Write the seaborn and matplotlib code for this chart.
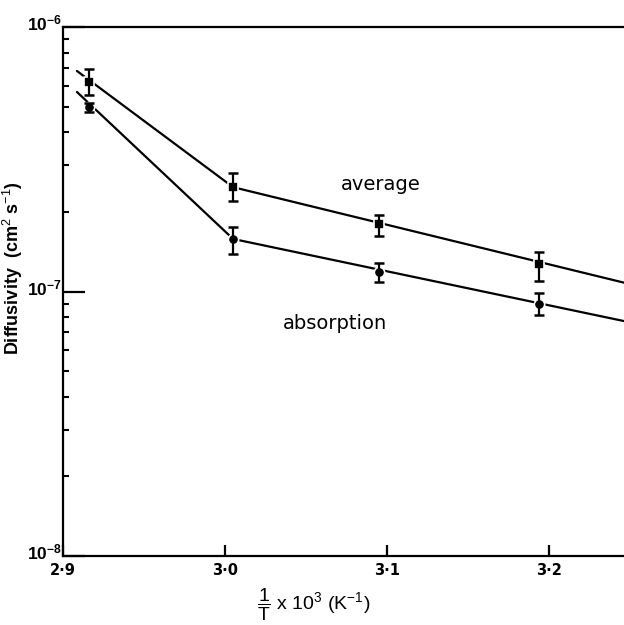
import numpy as np
import pandas as pd
import matplotlib
matplotlib.use('Agg')
import matplotlib.pyplot as plt
import matplotlib.transforms as mtransforms
import seaborn as sns

# measured points (1/T x 10^3, diffusivity cm2/s)
inv_t = [2.916, 3.005, 3.095, 3.194]
avg_d = [6.19e-7, 2.48e-7, 1.80e-7, 1.27e-7]
avg_hi = [6.94e-7, 2.81e-7, 1.94e-7, 1.41e-7]
avg_lo = [5.53e-7, 2.20e-7, 1.62e-7, 1.10e-7]
abs_d = [4.99e-7, 1.58e-7, 1.19e-7, 8.97e-8]
abs_hi = [5.18e-7, 1.75e-7, 1.28e-7, 9.87e-8]
abs_lo = [4.78e-7, 1.39e-7, 1.09e-7, 8.15e-8]

# drawn fit lines (two straight segments each)
fit_x = [2.9086, 3.005, 3.2463]
avg_fit = [6.82e-7, 2.48e-7, 1.08e-7]
abs_fit = [5.68e-7, 1.58e-7, 7.73e-8]

x_ticks = [2.9, 3.0, 3.1, 3.2]
x_labels = ['2·9', '3·0', '3·1', '3·2']
y_ticks = [1e-8, 1e-7, 1e-6]
y_labels = [r'$\mathbf{10^{-8}}$', r'$\mathbf{10^{-7}}$', r'$\mathbf{10^{-6}}$']

sns.set_style('ticks')
plt.rcParams['font.family'] = ['DejaVu Sans']
plt.rcParams['text.color'] = 'black'
plt.rcParams['axes.edgecolor'] = 'black'
plt.rcParams['xtick.color'] = 'black'
plt.rcParams['ytick.color'] = 'black'
plt.rcParams['mathtext.fontset'] = 'custom'
plt.rcParams['mathtext.rm'] = 'Liberation Sans'
plt.rcParams['mathtext.bf'] = 'Liberation Sans:bold'
plt.rcParams['mathtext.it'] = 'Liberation Sans'

fig = plt.figure(figsize=(6.24, 6.25), dpi=100)
ax = fig.add_axes([63/624, 1-556/625, (630-63)/624, (556-27)/625])

fits = pd.DataFrame({'x': fit_x * 2, 'y': avg_fit + abs_fit,
                     'series': ['average']*3 + ['absorption']*3})
sns.lineplot(data=fits, x='x', y='y', units='series', estimator=None,
             color='black', lw=1.6, ax=ax, legend=False, zorder=2)

ax.errorbar(inv_t, avg_d, yerr=[np.subtract(avg_d, avg_lo), np.subtract(avg_hi, avg_d)],
            fmt='none', ecolor='black', elinewidth=1.6, capsize=3.5, capthick=1.8, zorder=4)
ax.errorbar(inv_t, abs_d, yerr=[np.subtract(abs_d, abs_lo), np.subtract(abs_hi, abs_d)],
            fmt='none', ecolor='black', elinewidth=1.6, capsize=3.5, capthick=1.8, zorder=4)
sns.scatterplot(x=inv_t, y=avg_d, marker='s', s=45, color='black',
                edgecolor='white', linewidth=1.2, ax=ax, zorder=3)
sns.scatterplot(x=inv_t, y=abs_d, marker='o', s=55, color='black',
                edgecolor='white', linewidth=1.2, ax=ax, zorder=3)

ax.set_yscale('log')
ax.set_xlim(2.9, 3.25)
ax.set_ylim(1e-8, 1e-6)
ax.set_xticks(x_ticks, labels=x_labels)
ax.set_yticks(y_ticks, labels=y_labels)
ax.set_xlabel('')
ax.set_ylabel('')

for side in ['left', 'top', 'bottom']:
    ax.spines[side].set_linewidth(1.6)
ax.spines['right'].set_visible(False)

ax.tick_params(axis='x', which='major', direction='in', length=8, width=1.6,
               pad=5, labelsize=10.5)
for lab in ax.get_xticklabels():
    lab.set_fontweight('bold')
ax.tick_params(axis='x', which='minor', bottom=False)
ax.tick_params(axis='y', which='major', direction='in', length=16, width=1.6,
               pad=1, labelsize=12.5)
ax.tick_params(axis='y', which='minor', direction='in', length=4, width=1.5)
shift_up = mtransforms.ScaledTranslation(0, 3/72, fig.dpi_scale_trans)
for lab in ax.get_yticklabels():
    lab.set_transform(lab.get_transform() + shift_up)

ax.text(3.096, 2.53e-7, 'average', fontsize=14, ha='center', va='center')
ax.text(3.068, 7.6e-8, 'absorption', fontsize=14, ha='center', va='center')

fig.text(13/624, 1-268/625, 'Diffusivity  (cm$^{2}$ s$^{-1}$)', rotation=90,
         fontsize=13, fontweight='bold', family='Liberation Sans',
         ha='center', va='center')
fig.text(314/624, 1-605/625, r'$\dfrac{1}{\mathrm{T}}$ x 10$^{3}$ (K$^{-1}$)',
         fontsize=14, family='Liberation Sans', ha='center', va='center')

fig.savefig('out.png', dpi=100)
plt.close(fig)
